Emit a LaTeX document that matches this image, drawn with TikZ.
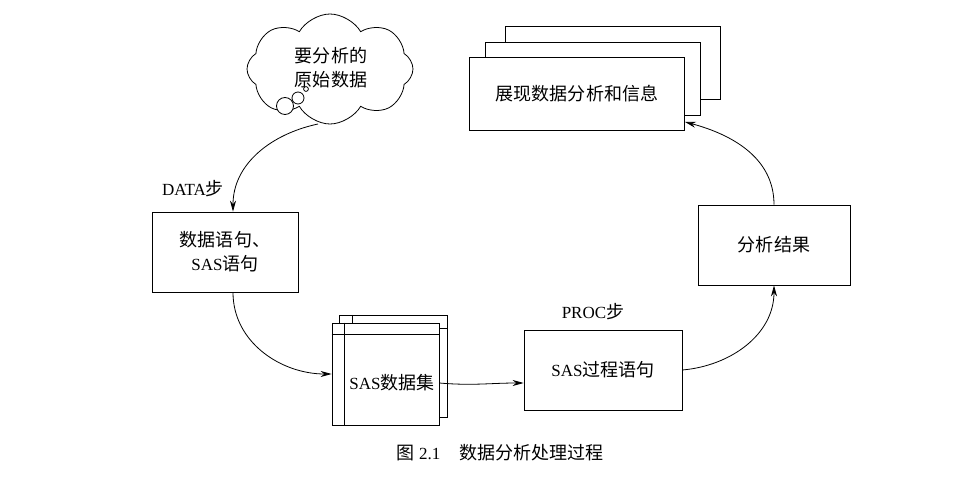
\documentclass[tikz,border=0pt]{standalone}
\usepackage{fontspec}
\setmainfont{Liberation Serif}
\newfontfamily\cjk{Noto Sans CJK SC}[Scale=1.06]
\usetikzlibrary{shapes.symbols,arrows.meta}
\begin{document}
\begin{tikzpicture}[x=1pt,y=-1pt,
  font=\fontsize{17}{24}\selectfont,
  every path/.style={line width=0.8pt},
  box/.style={draw, fill=white, rectangle, inner sep=0pt, align=center},
  plain/.style={inner sep=0pt, align=center},
  arr/.style={-{Stealth[length=11pt,width=6pt]}}]
\useasboundingbox (0,0) rectangle (980,478);
% cloud
\node[cloud, draw, cloud puffs=8, cloud puff arc=120, aspect=1.5,
      minimum width=166pt, minimum height=110pt, inner sep=0pt] (cloud) at (330,69) {};
\node[plain] (cloudtxt) at (331,68) {\cjk 要分析的\\\cjk 原始数据};
\draw[fill=white] (285,106) circle (8.5);
\draw[fill=white] (298,98) circle (6);
\draw[fill=white] (306,89) circle (2.4);
% display stack
\draw[fill=white] (505,26) rectangle (720,99);
\draw[fill=white] (485,42) rectangle (700,115);
\node[box, minimum width=215pt, minimum height=73pt] (disp) at (577,94) {\cjk 展现数据分析和信息};
% data statements
\node[box, minimum width=146pt, minimum height=80pt] (ds) at (225,252) {{\cjk 数据语句、}\\SAS{\cjk 语句}};
\node[plain, anchor=base] (datalbl) at (193,196) {DATA{\cjk 步}};
% data set stack
\draw[fill=white] (339,315) rectangle (447,417);
\draw (339,328) -- (447,328) (352,315) -- (352,417);
\node[box, minimum width=107pt, minimum height=102pt] (set) at (385.5,374) {};
\draw (set.north west) ++(0,12) -- ++(107,0);
\draw (set.north west) ++(13,0) -- ++(0,102);
\node[plain] (settxt) at (392,383) {SAS{\cjk 数据集}};
% proc
\node[box, minimum width=158pt, minimum height=80pt] (proc) at (603,370) {SAS{\cjk 过程语句}};
\node[plain, anchor=base] (proclbl) at (593,319) {PROC{\cjk 步}};
% result
\node[box, minimum width=152pt, minimum height=80pt] (res) at (774,245) {\cjk 分析结果};
% caption
\node[plain, anchor=base] (cap) at (500,459) {{\cjk 图}~2.1\hspace{1.1em}{\cjk 数据分析处理过程}};
% connectors
\coordinate (c1) at (318,124);
\draw[arr] (c1) to[out=-168,in=90] ([xshift=8pt]ds.north);
\draw[arr] ([xshift=8pt]ds.south) to[out=-90,in=180] (set.west);
\draw[arr] (set.east |- settxt) to[out=-5,in=180] (proc.west |- settxt);
\draw[arr] (proc.east) to[out=5,in=-90] (res.south);
\draw[arr] (res.north) to[out=90,in=-15] ([yshift=9pt]disp.south east);
\end{tikzpicture}
\end{document}
